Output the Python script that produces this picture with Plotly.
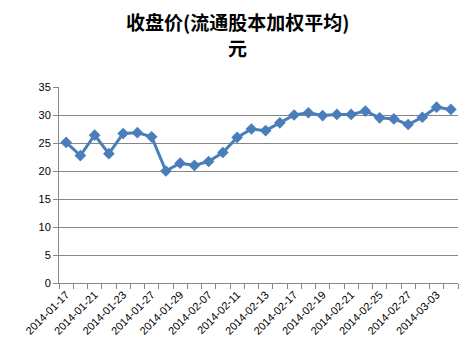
import plotly.graph_objects as go

dates = ["2014-01-17", "2014-01-20", "2014-01-21", "2014-01-22", "2014-01-23", "2014-01-24",
         "2014-01-27", "2014-01-28", "2014-01-29", "2014-01-30", "2014-02-07", "2014-02-10",
         "2014-02-11", "2014-02-12", "2014-02-13", "2014-02-14", "2014-02-17", "2014-02-18",
         "2014-02-19", "2014-02-20", "2014-02-21", "2014-02-24", "2014-02-25", "2014-02-26",
         "2014-02-27", "2014-02-28", "2014-03-03", "2014-03-04"]
values = [25.1, 22.75, 26.4, 23.1, 26.7, 26.85, 26.1, 20.0, 21.4, 21.0, 21.7, 23.3,
          26.0, 27.5, 27.2, 28.6, 30.0, 30.4, 29.9, 30.1, 30.1, 30.7, 29.5, 29.3,
          28.3, 29.6, 31.4, 31.0]
y_ticks = [0, 5, 10, 15, 20, 25, 30, 35]
title_line1 = "收盘价(流通股本加权平均)"
title_line2 = "元"

tick_text = [d if i % 2 == 0 else "" for i, d in enumerate(dates)]

fig = go.Figure()
fig.add_trace(go.Scatter(
    x=dates, y=values, mode="lines+markers",
    line=dict(color="#4A7EBB", width=3),
    marker=dict(symbol="diamond", size=9, color="#4A7EBB"),
    showlegend=False,
))

plot_h = 356 - 87 - 73
plot_w = 475 - 59 - 17
title_x = 0.5 + (237 - (59 + plot_w / 2)) / plot_w
title_font = dict(family="Noto Sans CJK SC", size=19, color="#000000", weight="bold")
fig.add_annotation(text=title_line1, xref="paper", yref="paper", x=title_x,
                   y=1 + (87 - 22) / plot_h, showarrow=False, font=title_font,
                   xanchor="center", yanchor="middle")
fig.add_annotation(text=title_line2, xref="paper", yref="paper", x=title_x,
                   y=1 + (87 - 48) / plot_h, showarrow=False, font=title_font,
                   xanchor="center", yanchor="middle")

fig.update_layout(
    width=475, height=356,
    margin=dict(l=59, r=17, t=87, b=73),
    paper_bgcolor="white", plot_bgcolor="white",
    xaxis=dict(type="category", range=[-0.5, len(dates) - 0.5],
               tickmode="array", tickvals=dates, ticktext=tick_text,
               tickson="boundaries", ticks="outside", ticklen=5, tickcolor="#868686",
               showline=True, linecolor="#868686", linewidth=1,
               showgrid=False, tickangle=-45,
               tickfont=dict(family="Liberation Sans", size=11, color="#000000")),
    yaxis=dict(range=[0, 35], tickmode="array", tickvals=y_ticks,
               showline=True, linecolor="#868686", linewidth=1,
               showgrid=True, gridcolor="#868686", gridwidth=1,
               ticks="outside", ticklen=5, tickcolor="#868686",
               zeroline=False,
               tickfont=dict(family="Liberation Sans", size=11, color="#000000")),
)

fig.write_html("out.html")
